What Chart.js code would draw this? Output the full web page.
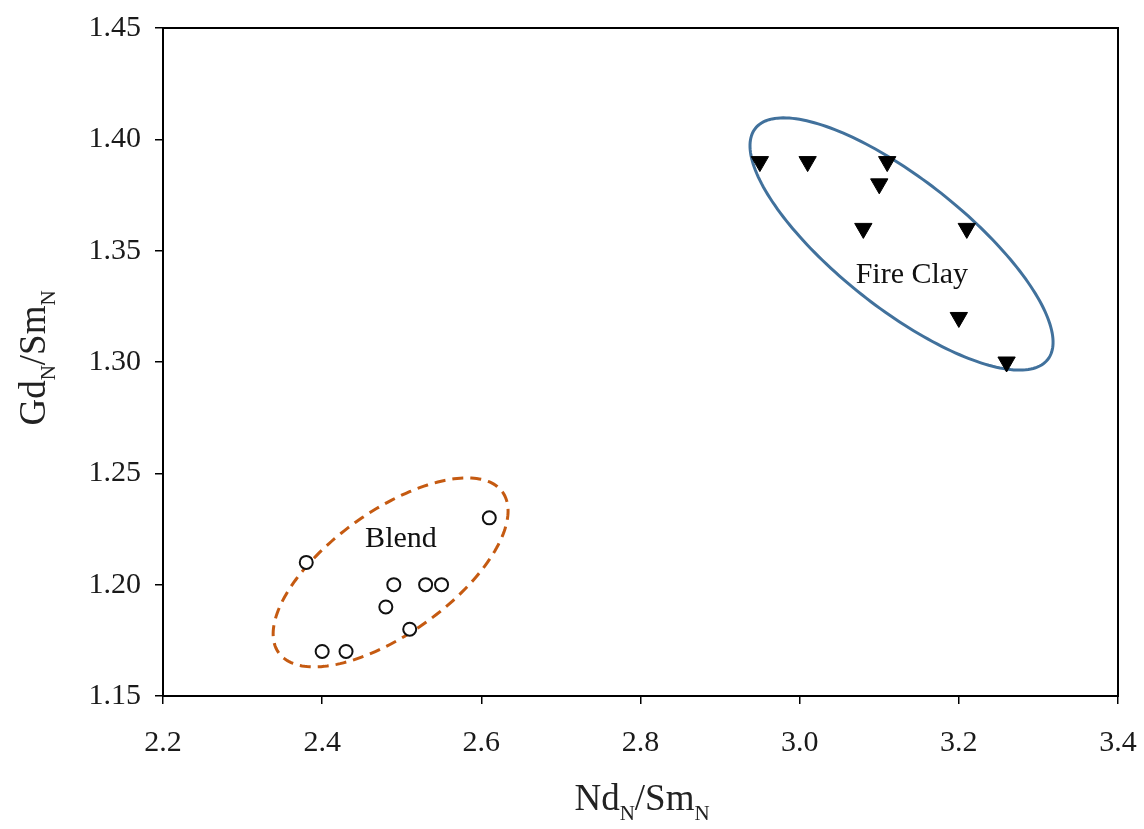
<!DOCTYPE html>
<html>
<head>
<meta charset="utf-8">
<script src="https://cdn.jsdelivr.net/npm/chart.js@4.4.1/dist/chart.umd.min.js"></script>
<style>
  html, body { margin: 0; padding: 0; background: #fff; }
  #wrap { width: 1144px; height: 829px; position: relative; }
</style>
</head>
<body>
<div id="wrap"><canvas id="scatterChart"></canvas></div>
<script>
/* DATA */
const fireClayX = [2.95, 3.01, 3.11, 3.10, 3.08, 3.21, 3.20, 3.26];
const fireClayY = [1.39, 1.39, 1.39, 1.38, 1.36, 1.36, 1.32, 1.30];

const blendX = [2.38, 2.61, 2.49, 2.53, 2.55, 2.48, 2.51, 2.40, 2.43];
const blendY = [1.21, 1.23, 1.20, 1.20, 1.20, 1.19, 1.18, 1.17, 1.17];

const xTicks = [2.2, 2.4, 2.6, 2.8, 3.0, 3.2, 3.4];
const yTicks = [1.15, 1.20, 1.25, 1.30, 1.35, 1.40, 1.45];

// group outlines: centre plus two half-axis vectors, all in data units
const fireClayRing = { cx: 3.128, cy: 1.353, ax: 0.1837, ay: -0.0519, bx: -0.0501, by: -0.0227 };
const blendRing = { cx: 2.486, cy: 1.2055, ax: 0.1406, ay: 0.0361, bx: 0.0449, by: -0.0223 };

const groupLabels = [
    { text: 'Fire Clay', x: 3.141, y: 1.339 },
    { text: 'Blend', x: 2.499, y: 1.2205 },
];

const SERIF = '"Liberation Serif", "DejaVu Serif", serif';

function toPoints(xs, ys) {
    return xs.map((x, i) => ({ x: x, y: ys[i] }));
}

/* ELLIPSES + LABELS + FRAME */
function traceRing(ctx, xs, ys, ring) {
    ctx.beginPath();
    for (let i = 0; i <= 200; i++) {
        const t = i / 200 * Math.PI * 2;
        const dx = ring.cx + Math.cos(t) * ring.ax + Math.sin(t) * ring.bx;
        const dy = ring.cy + Math.cos(t) * ring.ay + Math.sin(t) * ring.by;
        const px = xs.getPixelForValue(dx);
        const py = ys.getPixelForValue(dy);
        if (i === 0) ctx.moveTo(px, py); else ctx.lineTo(px, py);
    }
    ctx.closePath();
}

const decorations = {
    id: 'decorations',
    beforeDatasetsDraw(chart) {
        const ctx = chart.ctx;
        const xs = chart.scales.x;
        const ys = chart.scales.y;
        ctx.save();

        ctx.lineWidth = 3;
        ctx.strokeStyle = '#41719c';
        traceRing(ctx, xs, ys, fireClayRing);
        ctx.stroke();

        ctx.strokeStyle = '#c55a11';
        ctx.setLineDash([11, 7]);
        traceRing(ctx, xs, ys, blendRing);
        ctx.stroke();
        ctx.setLineDash([]);

        ctx.fillStyle = '#111';
        ctx.font = '30px ' + SERIF;
        ctx.textAlign = 'center';
        ctx.textBaseline = 'middle';
        groupLabels.forEach(l => {
            ctx.fillText(l.text, xs.getPixelForValue(l.x), ys.getPixelForValue(l.y));
        });
        ctx.restore();
    },
    afterDraw(chart) {
        const ctx = chart.ctx;
        const a = chart.chartArea;
        ctx.save();
        ctx.strokeStyle = '#000';
        ctx.lineWidth = 2;
        ctx.strokeRect(a.left, a.top, a.right - a.left, a.bottom - a.top);

        // axis titles with subscripts
        drawSubTitle(ctx, [['Nd', 'N'], ['/Sm', 'N']], 642, 800, 0);
        drawSubTitle(ctx, [['Gd', 'N'], ['/Sm', 'N']], 35, 358, -Math.PI / 2);
        ctx.restore();
    }
};

function drawSubTitle(ctx, parts, cx, cy, rot) {
    const big = '37px ' + SERIF;
    const small = '21px ' + SERIF;
    let total = 0;
    parts.forEach(p => {
        ctx.font = big; total += ctx.measureText(p[0]).width;
        ctx.font = small; total += ctx.measureText(p[1]).width;
    });
    ctx.save();
    ctx.translate(cx, cy);
    ctx.rotate(rot);
    ctx.fillStyle = '#222';
    ctx.textBaseline = 'middle';
    ctx.textAlign = 'left';
    let x = -total / 2;
    parts.forEach(p => {
        ctx.font = big;
        ctx.fillText(p[0], x, 0);
        x += ctx.measureText(p[0]).width;
        ctx.font = small;
        ctx.fillText(p[1], x, 14);
        x += ctx.measureText(p[1]).width;
    });
    ctx.restore();
}

/* CHART */
const ctx = document.getElementById('scatterChart').getContext('2d');
const scatterChart = new Chart(ctx, {
    type: 'scatter',
    data: {
        datasets: [
            {
                label: 'Fire Clay',
                data: toPoints(fireClayX, fireClayY),
                pointStyle: 'triangle',
                rotation: 180,
                pointRadius: 10,
                backgroundColor: '#000',
                borderColor: '#000',
                borderWidth: 1,
                clip: false,
            },
            {
                label: 'Blend',
                data: toPoints(blendX, blendY),
                pointStyle: 'circle',
                pointRadius: 6.5,
                backgroundColor: '#fff',
                borderColor: '#111',
                borderWidth: 2,
                clip: false,
            },
        ],
    },
    options: {
        responsive: true,
        maintainAspectRatio: false,
        animation: false,
        layout: { padding: { top: 28, right: 26, left: 0, bottom: 0 } },
        plugins: {
            legend: { display: false },
            tooltip: { enabled: false },
        },
        scales: {
            x: {
                type: 'linear',
                min: 2.2,
                max: 3.4,
                afterFit: s => { s.height = 133; s.paddingLeft = 0; s.paddingRight = 0; },
                afterBuildTicks: s => { s.ticks = xTicks.map(v => ({ value: v })); },
                border: { display: true, color: '#000', width: 2 },
                grid: { drawOnChartArea: false, drawTicks: true, tickLength: 8, color: '#000', lineWidth: 1.5 },
                ticks: {
                    padding: 21,
                    color: '#1a1a1a',
                    font: { family: SERIF, size: 30 },
                    callback: v => v.toFixed(1),
                },
            },
            y: {
                type: 'linear',
                min: 1.15,
                max: 1.45,
                afterFit: s => { s.width = 163; s.paddingTop = 0; s.paddingBottom = 0; },
                afterBuildTicks: s => { s.ticks = yTicks.map(v => ({ value: v })); },
                border: { display: true, color: '#000', width: 2 },
                grid: { drawOnChartArea: false, drawTicks: true, tickLength: 8, color: '#000', lineWidth: 1.5 },
                ticks: {
                    padding: 14,
                    color: '#1a1a1a',
                    font: { family: SERIF, size: 30 },
                    callback: v => v.toFixed(2),
                },
            },
        },
    },
    plugins: [decorations],
});
</script>
</body>
</html>
